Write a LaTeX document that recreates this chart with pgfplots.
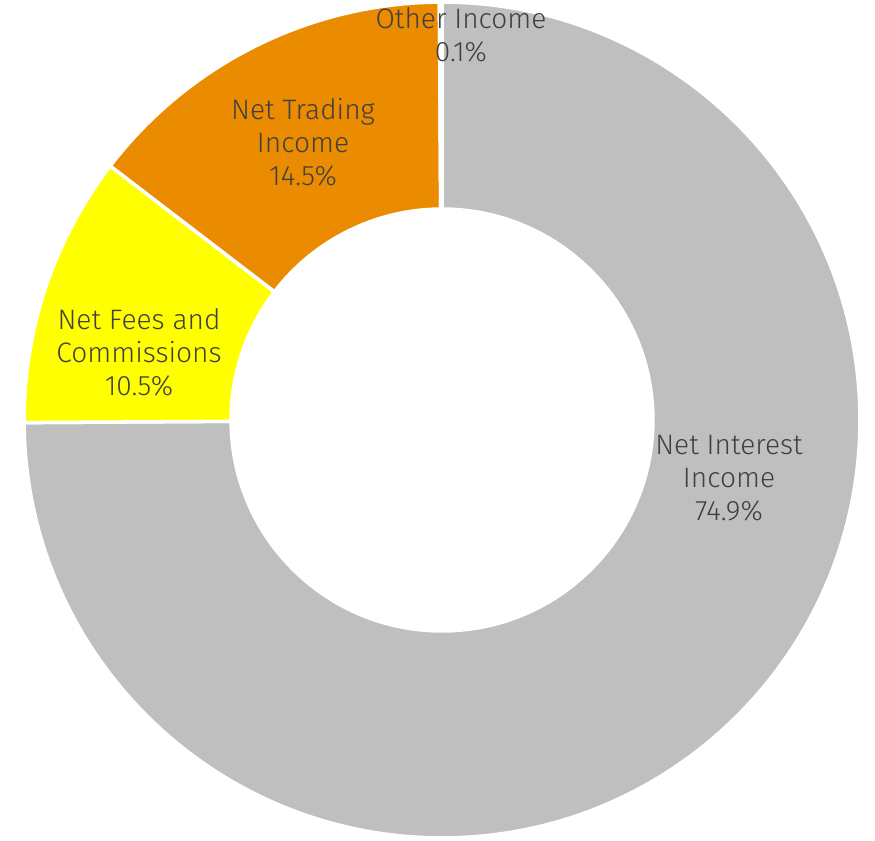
\documentclass[border=0pt]{standalone}
\usepackage{pgfplots}
\pgfplotsset{compat=1.18}
\usepackage{fontspec}
\setmainfont{Fira Sans}[UprightFont={* Light}]
\definecolor{cgray}{HTML}{BFBFBF}
\definecolor{cyellow}{HTML}{FFFF00}
\definecolor{corange}{HTML}{EB8C00}
\definecolor{cother}{HTML}{D9D9D9}
\definecolor{ctext}{HTML}{404040}
\begin{document}
\begin{tikzpicture}
% slice shares in percent (clockwise from 12 o'clock)
\pgfmathsetmacro\vA{74.9}% Net Interest Income
\pgfmathsetmacro\vB{10.5}% Net Fees and Commissions
\pgfmathsetmacro\vC{14.5}% Net Trading Income
\pgfmathsetmacro\vD{0.1}%  Other Income
\pgfmathsetmacro\aA{90}
\pgfmathsetmacro\aB{\aA-\vA*3.6}
\pgfmathsetmacro\aC{\aB-\vB*3.6}
\pgfmathsetmacro\aD{\aC-\vC*3.6}
\pgfmathsetmacro\aE{\aD-\vD*3.6}
\newcommand\donutwedge[3]{%
  \fill[#3, draw=white, line width=2pt]
    ([shift={(#1:8.36cm)}]O) arc[start angle=#1, end angle=#2, radius=8.36cm]
    -- ([shift={(#2:4.22cm)}]O) arc[start angle=#2, end angle=#1, radius=4.22cm] -- cycle;}
\begin{axis}[
  x=0.02cm, y=0.02cm,
  xmin=0, xmax=875, ymin=0, ymax=841,
  hide axis, clip=false,
]
\path (axis cs:0,0) rectangle (axis cs:875,841);
\coordinate (O) at (axis cs:442,421);
\donutwedge{\aA}{\aB}{cgray}
\donutwedge{\aB}{\aC}{cyellow}
\donutwedge{\aC}{\aD}{corange}
\donutwedge{\aD}{\aE}{cother}
\begin{scope}[every node/.style={align=center, text=ctext, font=\fontsize{16pt}{18.8pt}\selectfont}]
\node at (axis cs:729,363) {Net Interest\\Income\\74.9\%};
\node at (axis cs:139,489) {Net Fees and\\Commissions\\10.5\%};
\node at (axis cs:303,699) {Net Trading\\Income\\14.5\%};
\node at (axis cs:461,806) {Other Income\\0.1\%};
\end{scope}
\end{axis}
\end{tikzpicture}
\end{document}
